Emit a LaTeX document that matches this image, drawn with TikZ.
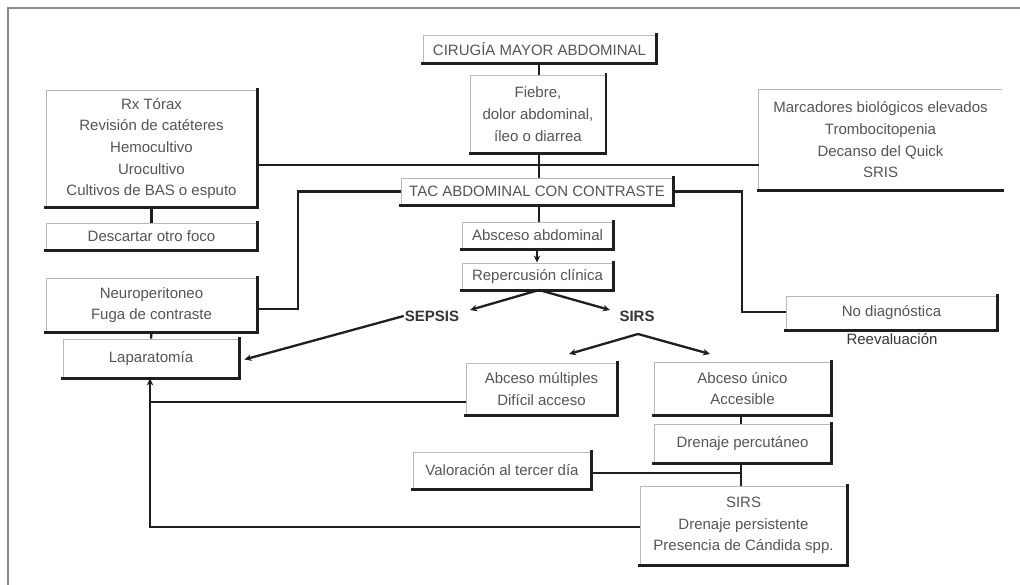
\documentclass[tikz,border=0pt]{standalone}
\usepackage{fontspec}
\setmainfont{Liberation Sans}
\usetikzlibrary{arrows.meta}
\definecolor{txt}{HTML}{555555}
\definecolor{lbl}{HTML}{353535}
\definecolor{thinb}{HTML}{BDB6B6}
\definecolor{frm}{HTML}{8C8C8C}
\tikzset{
  bx/.style={draw=thinb, line width=0.9pt, text=txt, align=center, inner sep=0pt,
    font=\fontsize{15}{21.7}\selectfont},
  shade/.style={draw=black!88, line width=2.9pt, line cap=rect},
  conn/.style={draw=black!88, line width=2.3pt},
  arr/.style={conn, -{Stealth[length=7pt,width=6.5pt]}},
  lab/.style={text=lbl, inner sep=1pt, font=\fontsize{15}{18}\selectfont}
}
\begin{document}
\begin{tikzpicture}[x=1pt,y=-1pt]
\useasboundingbox (0,0) rectangle (1020,585);
\fill[white] (0,0) rectangle (1020,585);
% frame
\draw[frm, line width=1.4pt] (8,585) -- (8,8) -- (1020,8);

% boxes
\node[bx, minimum width=233pt, minimum height=28pt] (cir) at (539.5,49) {CIRUGÍA MAYOR ABDOMINAL};
\node[bx, minimum width=135pt, minimum height=78pt] (fie) at (538,114) {Fiebre,\\dolor abdominal,\\íleo o diarrea};
\node[bx, minimum width=272pt, minimum height=27pt] (tac) at (537,191.5) {TAC ABDOMINAL CON CONTRASTE};
\node[bx, minimum width=211pt, minimum height=117pt] (rx) at (151.5,148.5) {Rx Tórax\\Revisión de catéteres\\Hemocultivo\\Urocultivo\\Cultivos de BAS o esputo};
\node[bx, minimum width=211pt, minimum height=27pt] (des) at (151.5,236.5) {Descartar otro foco};
\node[text=txt, align=center, inner sep=0pt, font=\fontsize{15}{21.7}\selectfont,
      minimum width=243pt, minimum height=100pt] (mar) at (880.5,140) {Marcadores biológicos elevados\\Trombocitopenia\\Decanso del Quick\\SRIS};
\node[bx, minimum width=211pt, minimum height=54pt] (neu) at (151.5,305) {Neuroperitoneo\\Fuga de contraste};
\node[bx, minimum width=176pt, minimum height=39pt] (lap) at (151,358.5) {Laparatomía};
\node[bx, minimum width=151pt, minimum height=27pt] (abs) at (537.5,235.5) {Absceso abdominal};
\node[bx, minimum width=151pt, minimum height=27pt] (rep) at (537.5,276.5) {Repercusión clínica};
\node[bx, minimum width=211pt, minimum height=34pt] (nod) at (891.5,313) {No diagnóstica};
\node[bx, minimum width=151pt, minimum height=52pt] (mul) at (541.5,389) {Abceso múltiples\\Difícil acceso};
\node[bx, minimum width=177pt, minimum height=53pt] (uni) at (742.5,388.5) {Abceso único\\Accesible};
\node[bx, minimum width=177pt, minimum height=39pt] (dre) at (742.5,443.5) {Drenaje percutáneo};
\node[bx, minimum width=178pt, minimum height=37pt] (val) at (502,470.5) {Valoración al tercer día};
\node[bx, minimum width=207pt, minimum height=79pt] (sir) at (743.5,525.5) {SIRS\\Drenaje persistente\\Presencia de Cándida spp.};

% Marcadores: open box (no right edge)
\draw[thinb, line width=0.9pt] (mar.north east) -- (mar.north west) -- (mar.south west);

% labels
\node[lab, font=\bfseries\fontsize{15}{18}\selectfont] (sep) at (432,316) {SEPSIS};
\node[lab, font=\bfseries\fontsize{15}{18}\selectfont] (sirs) at (637,316) {SIRS};
\node[lab] (ree) at (892,339) {Reevaluación};

% shadows
\foreach \n in {cir,fie,tac,rx,des,neu,lap,abs,rep,nod,mul,uni,dre,val,sir}
  \draw[shade] (\n.north east) -- (\n.south east) -- (\n.south west);
\draw[shade] (mar.south west) -- (mar.south east);

% coordinates
\coordinate (hl) at (539,165);
\coordinate (cl) at (298,309);
\coordinate (cr) at (742,312);
\coordinate (rp) at (539,290);
\coordinate (tsep) at (470,310);
\coordinate (tsir) at (610,310);
\coordinate (sa) at (638,334);
\coordinate (tmul) at (569,354);
\coordinate (tuni) at (710,354);
\coordinate (jv) at (741,473);
\coordinate (lm) at (150,402);
\coordinate (ls) at (150,527);

% connectors
\draw[conn] (cir.south -| hl) -- (fie.north -| hl);
\draw[conn] (fie.south -| hl) -- (tac.north -| hl);
\draw[conn] (hl -| rx.east) -- (hl -| mar.west);
\draw[conn] (rx.south) -- (des.north);
\draw[conn] (tac.west) -| (cl) -- (cl -| neu.east);
\draw[conn] (tac.east) -| (cr) -- (cr -| nod.west);
\draw[conn] (neu.south) -- (lap.north);
\draw[conn] (tac.south -| hl) -- (abs.north -| hl);
\draw[arr] (abs.south -| 537,0) -- (rep.north -| 537,0);
\draw[arr] (rp) -- (tsep);
\draw[arr] (rp) -- (tsir);
\draw[arr] (sep.west) -- ([xshift=5pt,yshift=-1pt]lap.east);
\draw[arr] (sa) -- (tmul);
\draw[arr] (sa) -- (tuni);
\draw[conn] (uni.south -| jv) -- (dre.north -| jv);
\draw[conn] (dre.south -| jv) -- (sir.north -| jv);
\draw[conn] (val.east |- jv) -- (jv);
\draw[conn] (mul.west |- lm) -- (lm);
\draw[arr] (sir.west |- ls) -- (ls) -- (lap.south -| ls);
\end{tikzpicture}
\end{document}
